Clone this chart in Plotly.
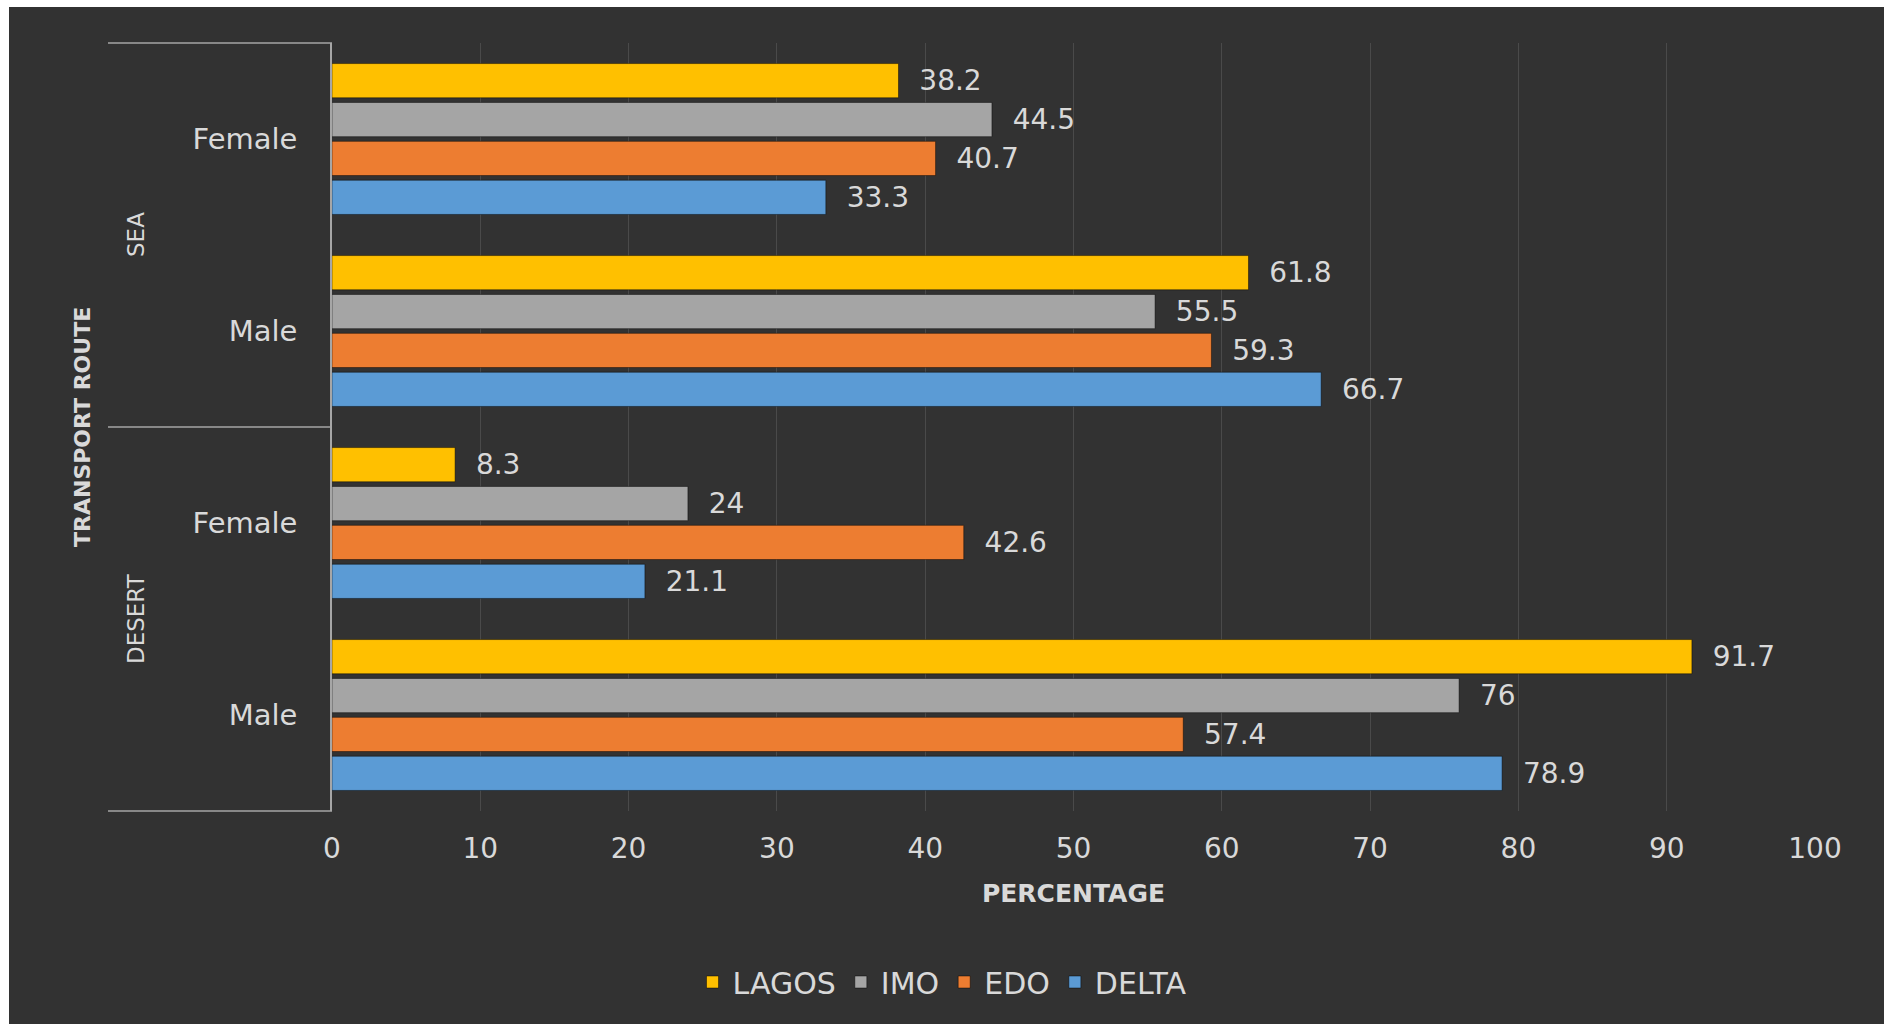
import plotly.graph_objects as go

# ---- data ----
categories = ["DESERT Male", "DESERT Female", "SEA Male", "SEA Female"]  # bottom -> top
cat_labels = ["Male", "Female", "Male", "Female"]
lagos = [91.7, 8.3, 61.8, 38.2]
imo = [76, 24, 55.5, 44.5]
edo = [57.4, 42.6, 59.3, 40.7]
delta = [78.9, 21.1, 66.7, 33.3]
x_ticks = [0, 10, 20, 30, 40, 50, 60, 70, 80, 90, 100]

series = [
    ("DELTA", delta, "#5B9BD5"),
    ("EDO", edo, "#ED7D31"),
    ("IMO", imo, "#A5A5A5"),
    ("LAGOS", lagos, "#FFC000"),
]

W, H = 1884, 1024
ML, MR, MT, MB = 332, 69, 43, 213
PW = W - ML - MR
PH = H - MT - MB
FONT = "DejaVu Sans"
TXT = "#d9d9d9"

def px(xpix):
    return (xpix - ML) / PW

def py(ypix):
    return 1 - (ypix - MT) / PH

fig = go.Figure()
for name, vals, col in series:
    fig.add_trace(go.Bar(
        y=categories, x=vals, name=name, orientation="h",
        marker=dict(color=col, line=dict(color="rgba(0,0,0,0.45)", width=1)),
        text=["\u00a0\u00a0" + (f"{v:g}") for v in vals],
        textposition="outside", constraintext="none", cliponaxis=False,
        textfont=dict(family=FONT, size=28, color=TXT),
        hoverinfo="x+name",
    ))

shapes = [
    # dark background panel
    dict(type="rect", xref="paper", yref="paper", x0=px(9), x1=px(W + 5), y0=py(7), y1=py(H + 5),
         fillcolor="#323232", line=dict(width=0), layer="below"),
    # group bracket lines
    dict(type="line", xref="paper", yref="paper", x0=px(108), x1=0, y0=1, y1=1,
         line=dict(color="#a6a6a6", width=1.5)),
    dict(type="line", xref="paper", yref="paper", x0=px(108), x1=0, y0=0.5, y1=0.5,
         line=dict(color="#a6a6a6", width=1.5)),
    dict(type="line", xref="paper", yref="paper", x0=px(108), x1=0, y0=0, y1=0,
         line=dict(color="#a6a6a6", width=1.5)),
]

annotations = [
    dict(text="SEA", xref="paper", yref="paper", x=px(136), y=0.75, textangle=-90,
         xanchor="center", yanchor="middle",
         showarrow=False, font=dict(family=FONT, size=23, color=TXT)),
    dict(text="DESERT", xref="paper", yref="paper", x=px(136), y=0.25, textangle=-90,
         xanchor="center", yanchor="middle",
         showarrow=False, font=dict(family=FONT, size=23, color=TXT)),
    dict(text="<b>TRANSPORT ROUTE</b>", xref="paper", yref="paper", x=px(82), y=0.5, textangle=-90,
         xanchor="center", yanchor="middle",
         showarrow=False, font=dict(family=FONT, size=22, color=TXT)),
]

fig.update_layout(
    width=W, height=H,
    margin=dict(l=ML, r=MR, t=MT, b=MB, pad=0),
    paper_bgcolor="white",
    plot_bgcolor="rgba(0,0,0,0)",
    barmode="group", bargap=0.19, bargroupgap=0.12,
    shapes=shapes, annotations=annotations,
    font=dict(family=FONT, color=TXT),
    showlegend=True,
    legend=dict(orientation="h", traceorder="reversed", xref="container", yref="container",
                x=0.5, xanchor="center", y=1 - 982 / H, yanchor="middle",
                font=dict(family=FONT, size=30, color=TXT), itemwidth=30,
                bgcolor="rgba(0,0,0,0)"),
    xaxis=dict(range=[0, 100], tickvals=x_ticks, showgrid=True, gridcolor="#4a4a4a", gridwidth=1,
               zeroline=False, showline=False, ticks="", ticklabelstandoff=18,
               tickfont=dict(family=FONT, size=28, color=TXT),
               title=dict(text="<b>PERCENTAGE</b>", standoff=20,
                          font=dict(family=FONT, size=25, color=TXT))),
    yaxis=dict(categoryorder="array", categoryarray=categories, tickvals=categories, ticktext=cat_labels,
               showgrid=False, zeroline=False, showline=True, linecolor="#a6a6a6", linewidth=1.5,
               ticks="", ticklabelstandoff=27,
               tickfont=dict(family=FONT, size=29, color=TXT)),
)

fig.write_html("out.html")
